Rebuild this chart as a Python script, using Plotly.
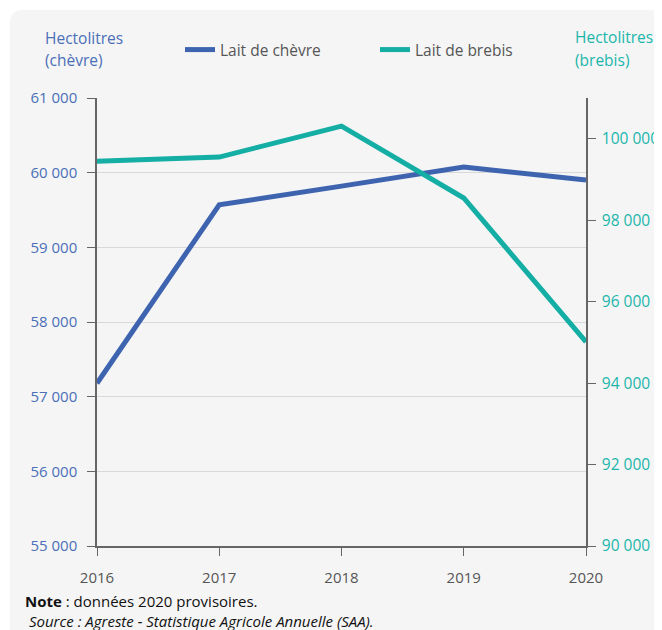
import plotly.graph_objects as go

FAMILY = "Open Sans"

years = [2016, 2017, 2018, 2019, 2020]
chevre = [57180, 59570, 59820, 60075, 59900]
brebis = [99450, 99550, 100310, 98545, 95010]

BLUE = "#3e64b0"
TEAL = "#14aea5"
BLUE_TXT = "#4a6fb8"
TEAL_TXT = "#1bb5ab"
GREY = "#666666"
CARD = "#f5f5f5"

# the page body adds an 8px margin, so the figure is drawn 8px in from the corner
OFF = 8
W, H = 662 - OFF, 630 - OFF
L, R, T, B = 97 - OFF, 662 - 586, 98 - OFF, 630 - 546
pw, ph = W - L - R, H - T - B


def px(x):
    # screen pixel -> paper x
    return (x - OFF - L) / pw


def py(y):
    # screen pixel -> paper y
    return (H - B - (y - OFF)) / ph


fig = go.Figure()

fig.add_trace(go.Scatter(x=years, y=chevre, name="Lait de chèvre", mode="lines",
                         line=dict(color=BLUE, width=5), yaxis="y"))
fig.add_trace(go.Scatter(x=years, y=brebis, name="Lait de brebis", mode="lines",
                         line=dict(color=TEAL, width=5), yaxis="y2"))

# grey card with rounded top-left corner
x0, x1 = px(10), px(700)
y0, y1 = py(700), py(10)
rx, ry = 13 / pw, 13 / ph
card_path = (f"M{x0},{y1 - ry} Q{x0},{y1} {x0 + rx},{y1} L{x1},{y1} "
             f"L{x1},{y0} L{x0},{y0} Z")

fig.update_layout(
    width=W, height=H,
    margin=dict(l=L, r=R, t=T, b=B),
    paper_bgcolor="white",
    plot_bgcolor="rgba(0,0,0,0)",
    separators=", ",
    font=dict(family=FAMILY, size=15, color=GREY),
    shapes=[dict(type="path", path=card_path, xref="paper", yref="paper",
                 fillcolor=CARD, line=dict(width=0), layer="below")],
    xaxis=dict(range=[2016, 2020], tickvals=years, showgrid=False, automargin=False,
               showline=True, linecolor=GREY, linewidth=1.5,
               ticks="outside", ticklen=8, tickcolor=GREY,
               ticklabelstandoff=9, tickfont=dict(color="#555555", size=15)),
    yaxis=dict(range=[55000, 61000], dtick=1000, tickformat=",d", automargin=False,
               showgrid=True, gridcolor="#d9d9d9", gridwidth=1,
               zeroline=False, showline=True, linecolor=GREY, linewidth=1.5,
               ticks="outside", ticklen=8, tickcolor=GREY,
               ticklabelstandoff=7, tickfont=dict(color=BLUE_TXT, size=15)),
    yaxis2=dict(range=[90000, 101000], tickvals=[90000, 92000, 94000, 96000, 98000, 100000],
                tickformat=",d", overlaying="y", side="right", showgrid=False, automargin=False,
                zeroline=False, showline=True, linecolor=GREY, linewidth=1.5,
                ticks="outside", ticklen=8, tickcolor=GREY,
                ticklabelstandoff=3, tickfont=dict(color=TEAL_TXT, size=15.5)),
    legend=dict(orientation="h", x=px(180), y=py(50), xanchor="left", yanchor="middle",
                bgcolor="rgba(0,0,0,0)", font=dict(size=15.5, color="#555555"),
                entrywidth=150, entrywidthmode="pixels", traceorder="normal"),
    annotations=[
        dict(text="Hectolitres", x=px(43), y=py(38), xref="paper", yref="paper",
             xanchor="left", yanchor="middle", showarrow=False,
             font=dict(color=BLUE_TXT, size=15.5)),
        dict(text="(chèvre)", x=px(43), y=py(60), xref="paper", yref="paper",
             xanchor="left", yanchor="middle", showarrow=False,
             font=dict(color=BLUE_TXT, size=15.5)),
        dict(text="Hectolitres", x=px(573), y=py(37), xref="paper", yref="paper",
             xanchor="left", yanchor="middle", showarrow=False,
             font=dict(color=TEAL_TXT, size=15.5)),
        dict(text="(brebis)", x=px(573), y=py(60), xref="paper", yref="paper",
             xanchor="left", yanchor="middle", showarrow=False,
             font=dict(color=TEAL_TXT, size=15.5)),
        dict(text="<b>Note</b> : données 2020 provisoires.<br>"
                  "\u00a0<i>Source : Agreste - Statistique Agricole Annuelle (SAA).</i>",
             x=px(23), y=py(611), xref="paper", yref="paper", xanchor="left", yanchor="middle",
             align="left", showarrow=False, font=dict(color="#111111", size=15)),
    ],
)

fig.write_html("out.html")
